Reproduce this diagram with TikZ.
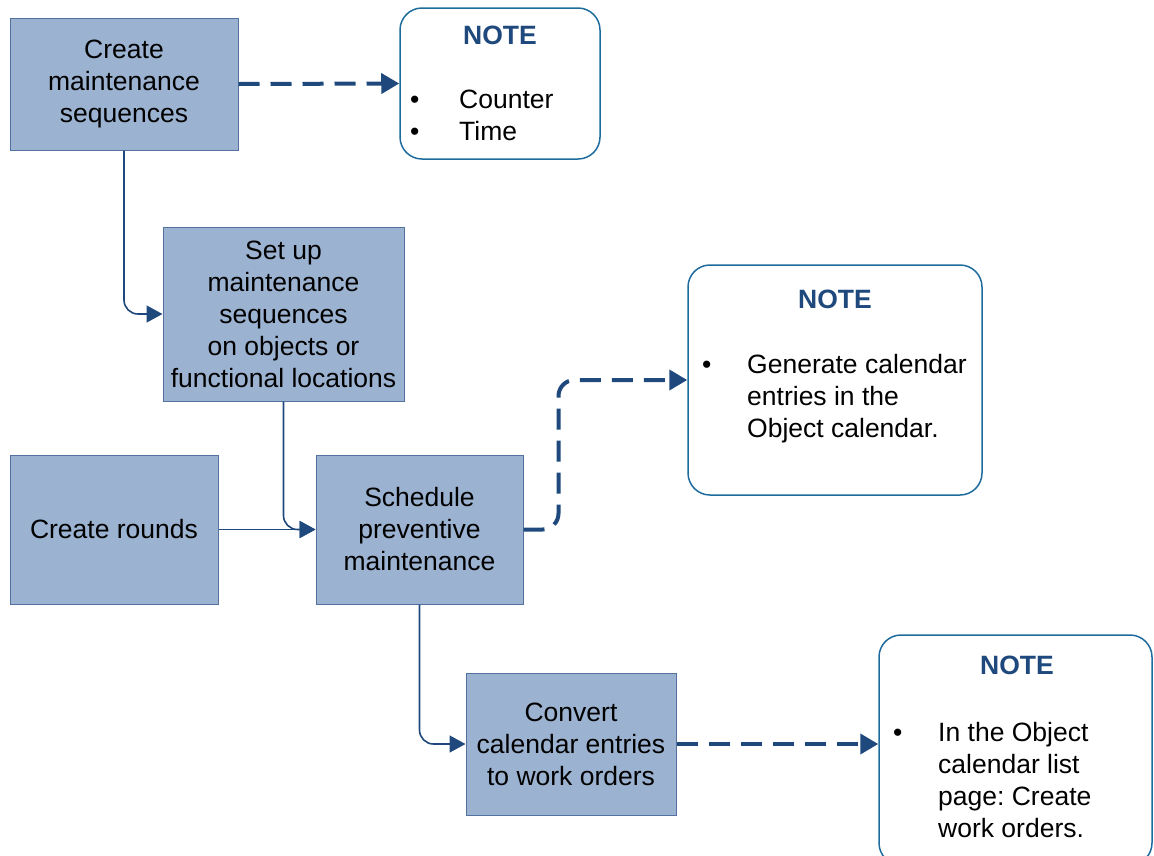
\documentclass[tikz,border=0pt]{standalone}
\usepackage{fontspec}
\setmainfont{Liberation Sans}
\usetikzlibrary{arrows.meta,positioning}
\definecolor{stepfill}{RGB}{155,178,209}
\definecolor{stepline}{RGB}{84,114,160}
\definecolor{noteline}{RGB}{30,108,158}
\definecolor{flowblue}{RGB}{31,73,125}
\frenchspacing
\tikzset{
  stepbox/.style={draw=stepline, fill=stepfill, line width=1pt, align=center, inner sep=0pt,
    font=\fontsize{26.5}{32}\selectfont},
  notebox/.style={draw=noteline, line width=1.5pt, rounded corners=22pt, fill=white},
  notetitle/.style={text=flowblue, inner sep=0pt, font=\fontsize{26.5}{32}\selectfont\bfseries},
  notetext/.style={align=left, anchor=base west, inner sep=0pt, font=\fontsize{26.5}{32}\selectfont},
  flow/.style={draw=flowblue, line width=1.6pt, -{Triangle[length=16pt,width=17pt]}, rounded corners=14pt},
  noteflow/.style={draw=flowblue, line width=4pt, dash pattern=on 21pt off 11pt,
    -{Triangle[length=18pt,width=20pt]}, rounded corners=16pt}
}
\begin{document}
\begin{tikzpicture}[x=1pt, y=-1pt]
  \useasboundingbox (0,0) rectangle (1154,855);

  % Process steps
  \node[stepbox, minimum width=228pt, minimum height=132pt] (seqs) at (124,84) {Create\\maintenance\\sequences};
  \node[stepbox, minimum width=241pt, minimum height=174pt] (setup) at (283.5,314) {Set up\\maintenance\\sequences\\on objects or\\functional locations};
  \node[stepbox, minimum width=208pt, minimum height=149pt] (rounds) at (114,529.5) {Create rounds};
  \node[stepbox, minimum width=207pt, minimum height=149pt] (sched) at (419.5,529.5) {Schedule\\preventive\\maintenance};
  \node[stepbox, minimum width=210pt, minimum height=142pt] (convert) at (571,744) {Convert\\calendar entries\\to work orders};

  % Notes (base anchor sits on the last line)
  \node[notebox, minimum width=200pt, minimum height=151pt] (noteseqs) at (500,83.5) {};
  \node[notetitle] (titleseqs) at (500,35) {NOTE};
  \node[notetext] (dotseqs) at (410,140) {\textbullet\\\textbullet};
  \node[notetext] (textseqs) at (459,140) {Counter\\Time};

  \node[notebox, minimum width=294pt, minimum height=230pt] (notecal) at (835,380) {};
  \node[notetitle] (titlecal) at (835,299) {NOTE};
  \node[notetext] (dotcal) at (702,373) {\textbullet};
  \node[notetext] (textcal) at (747,437) {Generate calendar\\entries in the\\Object calendar.};

  \node[notebox, minimum width=273pt, minimum height=230pt] (noteorders) at (1015.5,750) {};
  \node[notetitle] (titleorders) at (1017,665) {NOTE};
  \node[notetext] (dotorders) at (893,741) {\textbullet};
  \node[notetext] (textorders) at (938,837) {In the Object\\calendar list\\page: Create\\work orders.};

  % Connectors
  \draw[flow] (seqs.south) |- (setup.west);
  \draw[flow] (setup.south) |- (sched.west);
  \draw[flow] (rounds.east) -- (sched.west);
  \draw[flow] (sched.south) |- (convert.west);

  \draw[noteflow] (seqs.east) -- (noteseqs.west);
  \draw[noteflow] (sched.east) -- ++(35,0) |- (notecal.west);
  \draw[noteflow] (convert.east) -- (convert.east -| noteorders.west);
\end{tikzpicture}
\end{document}
